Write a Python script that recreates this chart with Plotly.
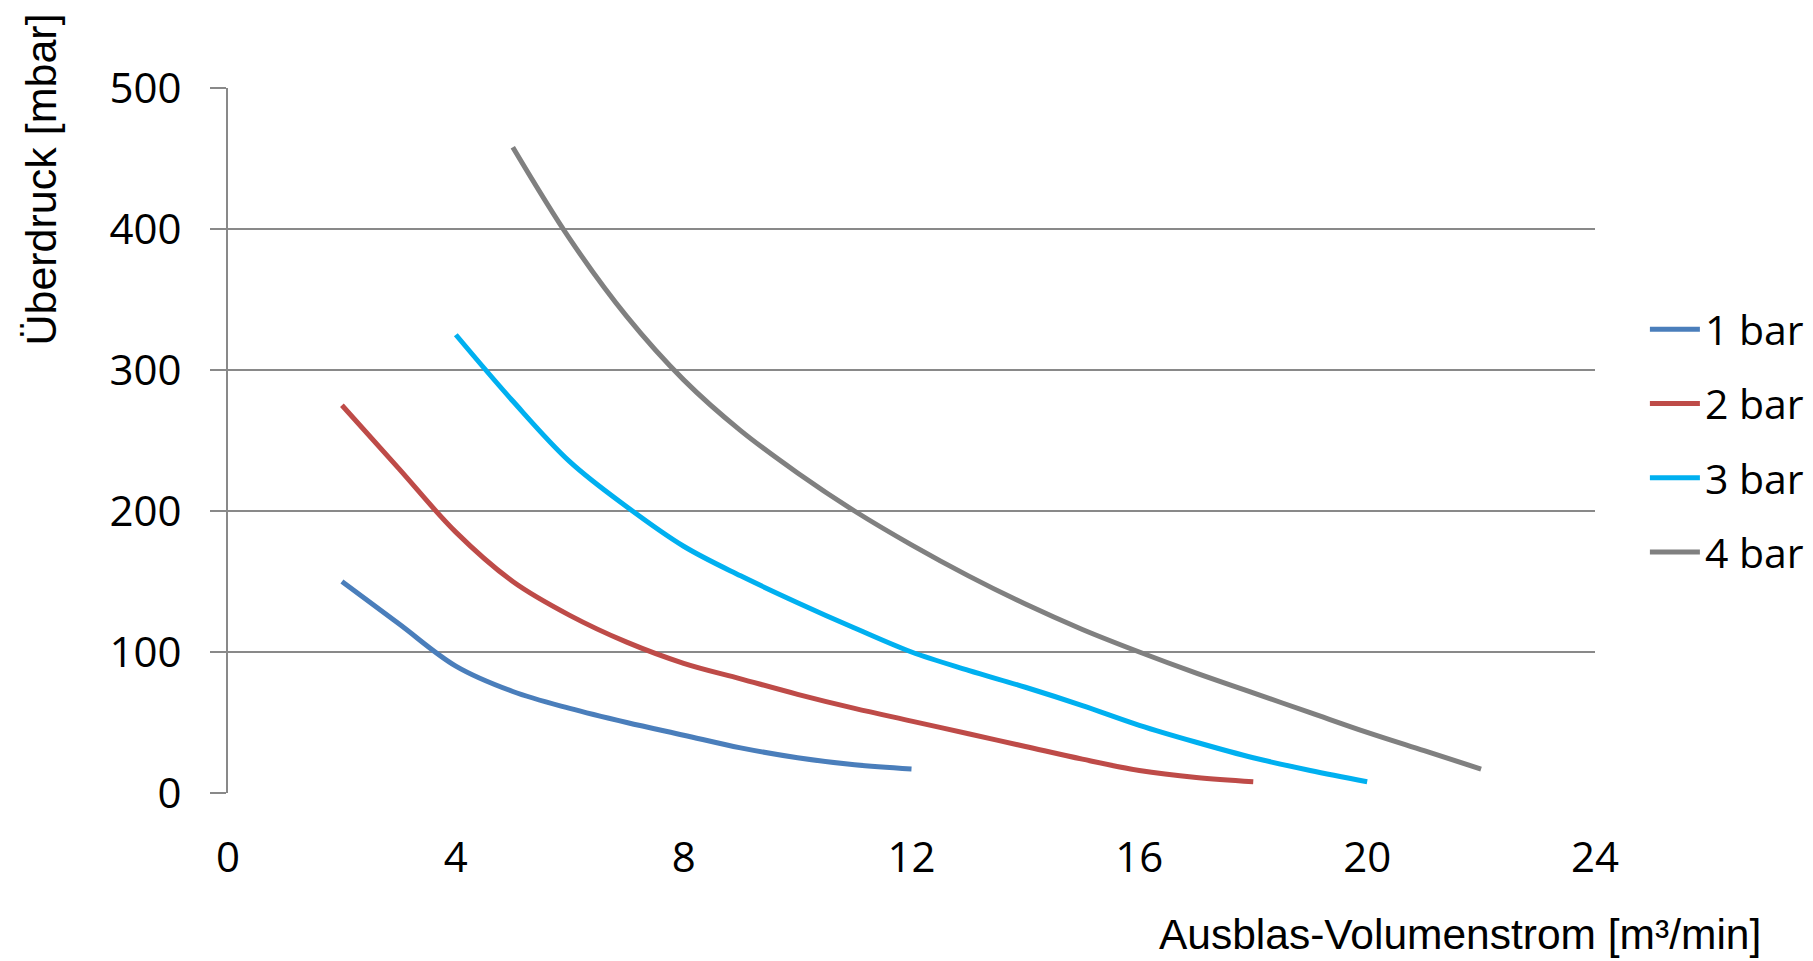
import plotly.graph_objects as go

# Data
x_1bar = [2, 3, 4, 5, 6, 7, 8, 9, 10, 11, 12]
y_1bar = [150, 120, 90, 72, 60, 50, 41, 32, 25, 20, 17]

x_2bar = [2, 3, 4, 5, 6, 7, 8, 9, 10, 11, 12, 13, 14, 15, 16, 17, 18]
y_2bar = [275, 230, 185, 150, 126, 107, 92, 81, 70, 60, 51, 42, 33, 24, 16, 11, 8]

x_3bar = [4, 5, 6, 7, 8, 9, 10, 11, 12, 13, 14, 15, 16, 17, 18, 19, 20]
y_3bar = [325, 278, 235, 203, 175, 154, 135, 117, 100, 87, 75, 62, 48, 36, 25, 16, 8]

x_4bar = [5, 6, 7, 8, 9, 10, 11, 12, 13, 14, 15, 16, 17, 18, 19, 20, 21, 22]
y_4bar = [458, 393, 338, 293, 257, 227, 200, 176, 154, 134, 116, 100, 85, 71, 57, 43, 30, 17]

series_names = ["1 bar", "2 bar", "3 bar", "4 bar"]
series_colors = ["#4A7EBB", "#BE4B48", "#00B0F0", "#808080"]
x_ticks = [0, 4, 8, 12, 16, 20, 24]
y_ticks = [0, 100, 200, 300, 400, 500]

xs = [x_1bar, x_2bar, x_3bar, x_4bar]
ys = [y_1bar, y_2bar, y_3bar, y_4bar]

fig = go.Figure()
for i, (name, col) in enumerate(zip(series_names, series_colors)):
    fig.add_trace(go.Scatter(
        x=xs[i], y=ys[i], mode="lines", name=name,
        line=dict(color=col, width=5, shape="spline", smoothing=1.0),
        legendgroup=name,
    ))

grid = "#898989"
tick_font = dict(family="Open Sans", size=42, color="#000000")

fig.update_layout(
    width=1813, height=961, autosize=False,
    margin=dict(l=220, r=224, t=80, b=176),
    paper_bgcolor="white", plot_bgcolor="white",
    showlegend=True,
    legend=dict(
        x=1.0365, xanchor="left", y=0.705, yanchor="top",
        font=dict(family="Open Sans", size=41, color="#000000"),
        tracegroupgap=18, traceorder="grouped", itemwidth=50,
        bgcolor="rgba(0,0,0,0)",
    ),
    xaxis=dict(
        range=[0, 24], tickvals=x_ticks, ticktext=[str(v) for v in x_ticks],
        showgrid=False, zeroline=False, showline=False, ticks="",
        tickfont=tick_font, ticklabelstandoff=36,
    ),
    yaxis=dict(
        range=[0, 500], tickvals=y_ticks, ticktext=[str(v) for v in y_ticks],
        showgrid=True, gridcolor=grid, gridwidth=2,
        zeroline=False, showline=True, linecolor=grid, linewidth=2,
        ticks="outside", ticklen=16, tickcolor=grid, tickwidth=2,
        tickfont=tick_font, ticklabelstandoff=20,
    ),
    annotations=[
        dict(text="Ausblas-Volumenstrom [m³/min]", xref="paper", yref="paper",
             x=1.123, y=-0.2, xanchor="right", yanchor="middle", showarrow=False,
             font=dict(family="Liberation Sans", size=42.5, color="#000000")),
        dict(text="Überdruck [mbar]", xref="paper", yref="paper",
             x=-0.137, y=1.108, xanchor="center", yanchor="top", textangle=-90,
             showarrow=False,
             font=dict(family="Liberation Sans", size=43, color="#000000")),
    ],
)

fig.write_html("out.html")
